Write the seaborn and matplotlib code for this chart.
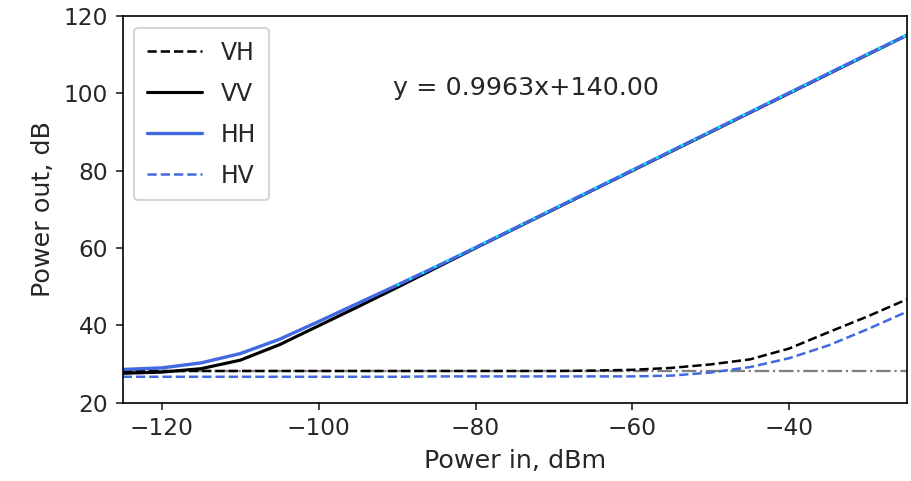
import numpy as np
import pandas as pd
import matplotlib
matplotlib.use("Agg")
import matplotlib.pyplot as plt
import seaborn as sns

# giriş gücü (dBm)
power_in = [-125, -120, -115, -110, -105, -100, -95, -90, -85, -80, -75,
            -70, -65, -60, -55, -50, -45, -40, -35, -30, -25]

# çıkış gücü (dB), kanallara göre
hh = [28.6, 29.0, 30.3, 32.7, 36.4, 41.0, 45.7, 50.4, 55.2, 60.1, 65.1,
      70.1, 75.1, 80.1, 85.1, 90.1, 95.1, 100.1, 105.1, 110.1, 115.0]
vv = [27.6, 27.9, 28.8, 31.0, 35.0, 39.9, 44.8, 49.8, 54.9, 60.0, 65.0,
      70.0, 75.0, 80.0, 85.0, 90.0, 95.0, 100.0, 105.0, 110.0, 115.0]
vh = [28.2, 28.2, 28.2, 28.2, 28.2, 28.2, 28.2, 28.2, 28.2, 28.2, 28.2,
      28.2, 28.3, 28.5, 29.0, 29.9, 31.2, 34.0, 38.2, 42.3, 46.7]
hv = [26.7, 26.7, 26.7, 26.7, 26.7, 26.7, 26.7, 26.7, 26.8, 26.8, 26.8,
      26.8, 26.8, 26.8, 27.0, 27.8, 29.2, 31.5, 34.8, 39.0, 43.5]

# doğrusal uyum ve gürültü tabanı
fit_slope = 0.9963
fit_intercept = 140.00
fit_range = [-90, -25]
noise_floor = 28.2

df = pd.DataFrame({"pin": power_in, "VH": vh, "VV": vv, "HH": hh, "HV": hv})

sns.set_style("ticks")
plt.rcParams["font.family"] = ["DejaVu Sans"]

fig = plt.figure(figsize=(911 / 150, 481 / 150), dpi=150)
ax = fig.add_axes([0.1347, 0.1628, 0.8606, 0.804])

ax.axhline(noise_floor, color="gray", linestyle="-.", linewidth=1.1, zorder=1)

sns.lineplot(data=df, x="pin", y="VH", ax=ax, color="black", linestyle="--",
             linewidth=1.2, label="VH")
sns.lineplot(data=df, x="pin", y="VV", ax=ax, color="black", linewidth=1.5,
             label="VV")
sns.lineplot(data=df, x="pin", y="HH", ax=ax, color="royalblue", linewidth=1.6,
             label="HH")
sns.lineplot(data=df, x="pin", y="HV", ax=ax, color="royalblue", linestyle="--",
             linewidth=1.2, label="HV")

fit_x = np.array(fit_range)
ax.plot(fit_x, fit_slope * fit_x + fit_intercept, color="cyan", linewidth=1.2,
        linestyle=(0, (1, 4.5)), zorder=5)

ax.text(-90.5, 101.5, f"y = {fit_slope:.4f}x+{fit_intercept:.2f}", fontsize=12.2,
        va="center", ha="left")

ax.set_xlim(-125, -25)
ax.set_ylim(20, 120)
ax.set_xticks([-120, -100, -80, -60, -40])
ax.set_xlabel("Power in, dBm", fontsize=12.2)
ax.set_ylabel("Power out, dB", fontsize=12.2)
ax.tick_params(labelsize=11.2)
for s in ax.spines.values():
    s.set_visible(True)
    s.set_color("black")

ax.legend(loc="upper left", fontsize=11.3, labelspacing=0.72, handlelength=2.3,
          borderpad=0.55)

fig.savefig("out.png", dpi=150)
